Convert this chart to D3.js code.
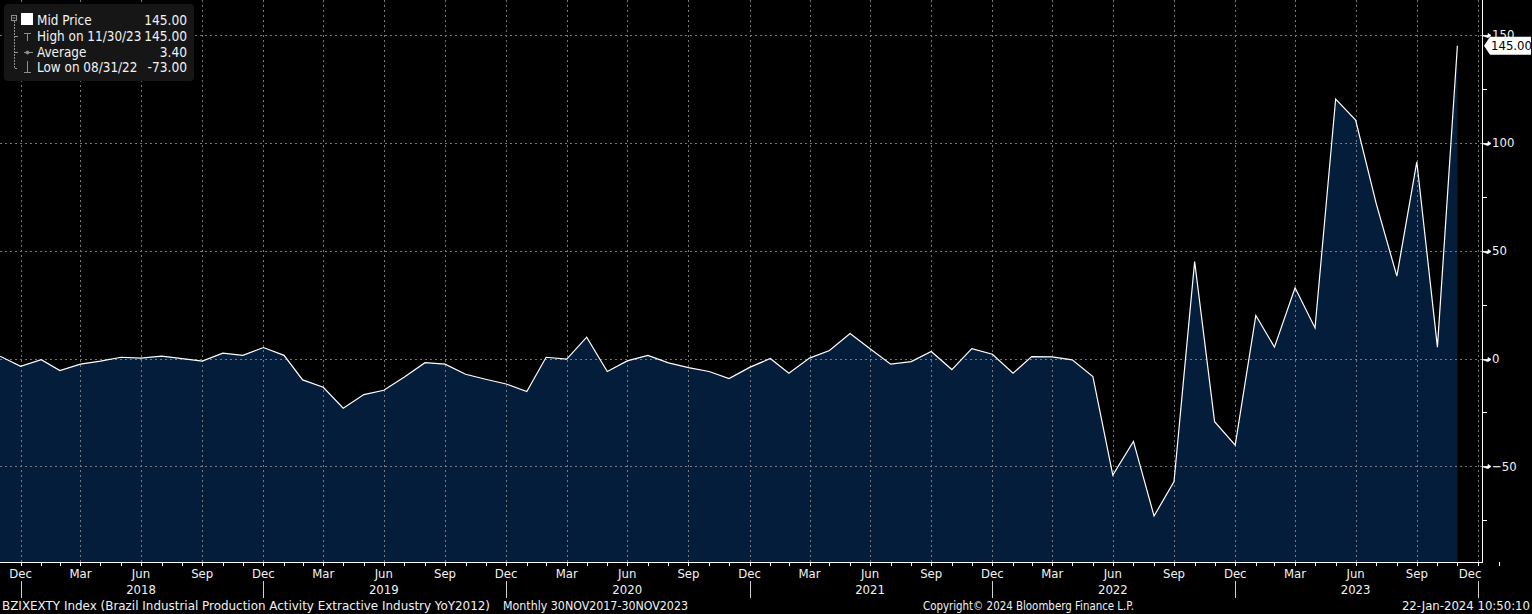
<!DOCTYPE html>
<html>
<head>
<meta charset="utf-8">
<script src="https://cdn.jsdelivr.net/npm/d3@7"></script>
<style>
  body { margin: 0; background: #000; }
  svg { display: block; }
  text { font-family: "Liberation Sans Narrow", "DejaVu Sans Condensed", sans-serif; fill: #f2f2f2; }
</style>
</head>
<body>
<svg id="chart"></svg>
<script>
// Monthly YoY values, Nov 2017 .. Nov 2023
const values = [
  1.1, -3.6, -0.5, -5.6, -2.6, -1.2, 0.6, 0.2, 1.1, 0, -1.2, 2.5, 1.5,
  5.1, 1.5, -9.9, -13.3, -23, -16.7, -14.7, -8.5, -1.9, -2.6, -7.3, -9.6,
  -11.8, -15.3, 0.6, -0.3, 9.9, -6.0, -1.1, 1.5, -2.0, -4.2, -6.0, -9.3,
  -4.1, 0, -6.8, 0.2, 3.7, 11.6, 4.5, -2.6, -1.4, 3.3, -5.1, 4.6, 2.0,
  -6.8, 0.9, 0.8, -0.6, -8.3, -54, -38.4, -73, -57, 45, -29.3, -40.1,
  20, 5.3, 32.8, 14.2, 120.3, 110.5, 71.8, 38.2, 91.2, 5.3, 145
];
const yTicks = [150, 100, 50, 0, -50];
const yMinorTicks = [125, 75, 25, -25, -75];
const monthNames = ["Jan", "Feb", "Mar", "Apr", "May", "Jun", "Jul", "Aug", "Sep", "Oct", "Nov", "Dec"];
const years = [2018, 2019, 2020, 2021, 2022, 2023];
const legendRows = [
  { label: "Mid Price", value: "145.00" },
  { label: "High on 11/30/23", value: "145.00" },
  { label: "Average", value: "3.40" },
  { label: "Low on 08/31/22", value: "-73.00" }
];
const lastLabel = "145.00";
const footerLeft = "BZIXEXTY Index (Brazil Industrial Production Activity Extractive Industry YoY2012)";
const footerPeriod = "Monthly 30NOV2017-30NOV2023";
const footerCopy = "Copyright\u00A9 2024 Bloomberg Finance L.P.";
const footerDate = "22-Jan-2024 10:50:10";

// month-end dates for each observation
const data = values.map((v, i) => ({ date: new Date(Date.UTC(2017, 11 + i, 0)), value: v }));

const w = 1532;
const h = 614;
const axisX = 1482;
const axisY = 562;

const svg = d3.select("#chart").attr("width", w).attr("height", h);

const xScale = d3
  .scaleUtc()
  .domain([new Date(Date.UTC(2017, 10, 30)), new Date(Date.UTC(2023, 11, 31))])
  .range([0, 1478]);

const yScale = d3.scaleLinear().domain([-94.3, 166.2]).range([axisY, 0]);

// month-end tick dates
const monthEnds = d3.range(0, 74).map((i) => new Date(Date.UTC(2017, 12 + i, 0)));
const quarterEnds = monthEnds.filter((d) => d.getUTCMonth() % 3 === 2);
const decEnds = monthEnds.filter((d) => d.getUTCMonth() === 11);

// area
const area = d3
  .area()
  .x((d) => xScale(d.date))
  .y0(axisY)
  .y1((d) => yScale(d.value));

svg.append("path").datum(data).attr("d", area).attr("fill", "#031d3b");

// grid
const grid = svg.append("g").attr("stroke", "#8c8c8c").attr("stroke-dasharray", "2,3").attr("opacity", 0.85);
grid
  .selectAll("line.v")
  .data(quarterEnds)
  .enter()
  .append("line")
  .attr("x1", (d) => Math.round(xScale(d)) + 0.5)
  .attr("x2", (d) => Math.round(xScale(d)) + 0.5)
  .attr("y1", 0)
  .attr("y2", axisY);
grid
  .selectAll("line.h")
  .data(yTicks)
  .enter()
  .append("line")
  .attr("x1", 0)
  .attr("x2", axisX)
  .attr("y1", (d) => Math.round(yScale(d)) + 0.5)
  .attr("y2", (d) => Math.round(yScale(d)) + 0.5);

// line
const line = d3
  .line()
  .x((d) => xScale(d.date))
  .y((d) => yScale(d.value));

svg
  .append("path")
  .datum(data)
  .attr("d", line)
  .attr("fill", "none")
  .attr("stroke", "#ffffff")
  .attr("stroke-width", 1.2);

// right y-axis
svg.append("line").attr("x1", axisX + 0.5).attr("x2", axisX + 0.5).attr("y1", 0).attr("y2", axisY).attr("stroke", "#fff");

const yAxis = svg.append("g");
yAxis
  .selectAll("path.major")
  .data(yTicks)
  .enter()
  .append("path")
  .attr("d", (d) => {
    const y = Math.round(yScale(d)) + 0.5;
    return `M${axisX},${y}H${axisX + 6}L${axisX + 6},${y - 2}L${axisX + 9},${y}L${axisX + 6},${y + 2}Z`;
  })
  .attr("fill", "#fff")
  .attr("stroke", "#fff")
  .attr("stroke-width", 0.8);
yAxis
  .selectAll("line.minor")
  .data(yMinorTicks)
  .enter()
  .append("line")
  .attr("x1", axisX)
  .attr("x2", axisX + 5)
  .attr("y1", (d) => Math.round(yScale(d)) + 0.5)
  .attr("y2", (d) => Math.round(yScale(d)) + 0.5)
  .attr("stroke", "#fff");
yAxis
  .selectAll("text")
  .data(yTicks)
  .enter()
  .append("text")
  .attr("x", axisX + 10)
  .attr("y", (d) => yScale(d) + 4.5)
  .attr("font-size", 13)
  .text((d) => (d < 0 ? "\u2212" + Math.abs(d) : d));

// last value label (covers most of the top tick label, as in the original)
const lastY = yScale(values[values.length - 1]);
svg
  .append("path")
  .attr("d", `M${axisX + 2},${lastY}L${axisX + 8},${lastY - 9}H${w - 1}V${lastY + 9}H${axisX + 8}Z`)
  .attr("fill", "#fff");
svg
  .append("text")
  .attr("x", axisX + 9)
  .attr("y", lastY + 4.5)
  .attr("font-size", 13)
  .style("fill", "#000")
  .text(lastLabel);

// bottom x-axis
svg.append("line").attr("x1", 0).attr("x2", axisX + 1).attr("y1", axisY + 0.5).attr("y2", axisY + 0.5).attr("stroke", "#fff");
svg
  .append("g")
  .selectAll("line")
  .data(monthEnds)
  .enter()
  .append("line")
  .attr("x1", (d) => Math.round(xScale(d)) + 0.5)
  .attr("x2", (d) => Math.round(xScale(d)) + 0.5)
  .attr("y1", axisY)
  .attr("y2", axisY + 4)
  .attr("stroke", "#fff");

svg
  .append("g")
  .selectAll("text")
  .data(quarterEnds)
  .enter()
  .append("text")
  .attr("x", (d) => Math.min(xScale(d), 1470))
  .attr("y", 578)
  .attr("text-anchor", "middle")
  .attr("font-size", 13)
  .text((d) => monthNames[d.getUTCMonth()]);

// year separators and labels
svg
  .append("g")
  .selectAll("line")
  .data(decEnds)
  .enter()
  .append("line")
  .attr("x1", (d) => Math.round(xScale(d)) + 0.5)
  .attr("x2", (d) => Math.round(xScale(d)) + 0.5)
  .attr("y1", 581)
  .attr("y2", 598)
  .attr("stroke", "#cfcfcf");

svg
  .append("g")
  .selectAll("text")
  .data(years)
  .enter()
  .append("text")
  .attr("x", (d) => xScale(new Date(Date.UTC(d, 6, 0))))
  .attr("y", 594)
  .attr("text-anchor", "middle")
  .attr("font-size", 13)
  .text((d) => d);

// footer
const footer = svg.append("g").attr("font-size", 13);
footer.append("text").attr("x", 2).attr("y", 610).attr("textLength", 488).attr("lengthAdjust", "spacingAndGlyphs").text(footerLeft);
footer.append("text").attr("x", 503).attr("y", 610).attr("textLength", 185).attr("lengthAdjust", "spacingAndGlyphs").text(footerPeriod);
footer.append("text").attr("x", 923).attr("y", 610).attr("textLength", 211).attr("lengthAdjust", "spacingAndGlyphs").text(footerCopy);
footer.append("text").attr("x", 1530).attr("y", 610).attr("text-anchor", "end").text(footerDate);

// legend
const legend = svg.append("g");
legend.append("rect").attr("x", 4).attr("y", 4).attr("width", 190).attr("height", 77).attr("rx", 4).attr("fill", "#161616");

const icons = legend.append("g").attr("stroke", "#8f8f8f").attr("fill", "none");
icons.append("rect").attr("x", 11.5).attr("y", 15.5).attr("width", 5).attr("height", 5);
icons.append("line").attr("x1", 12.5).attr("x2", 15.5).attr("y1", 18).attr("y2", 18);
icons.append("path").attr("d", "M14.5,21V68.5H18").attr("stroke-dasharray", "2,1");
icons.append("line").attr("x1", 14.5).attr("x2", 18).attr("y1", 36.5).attr("y2", 36.5);
icons.append("line").attr("x1", 14.5).attr("x2", 18).attr("y1", 52.5).attr("y2", 52.5);
icons.append("path").attr("d", "M24,33.5H31M27.5,33.5V41");
icons.append("path").attr("d", "M24,52.5H33");
icons.append("circle").attr("cx", 27.5).attr("cy", 52.5).attr("r", 1.5).attr("fill", "#8f8f8f");
icons.append("path").attr("d", "M27.5,61V72.5M24,72.5H31");
legend.append("rect").attr("x", 21).attr("y", 13).attr("width", 12).attr("height", 12).attr("fill", "#fff");

legend
  .selectAll("text.label")
  .data(legendRows)
  .enter()
  .append("text")
  .attr("x", 37)
  .attr("y", (d, i) => 25 + i * 15.8)
  .attr("font-size", 13.4)
  .text((d) => d.label);
legend
  .selectAll("text.value")
  .data(legendRows)
  .enter()
  .append("text")
  .attr("x", 187)
  .attr("y", (d, i) => 25 + i * 15.8)
  .attr("font-size", 13.6)
  .attr("text-anchor", "end")
  .text((d) => d.value);
</script>
</body>
</html>
